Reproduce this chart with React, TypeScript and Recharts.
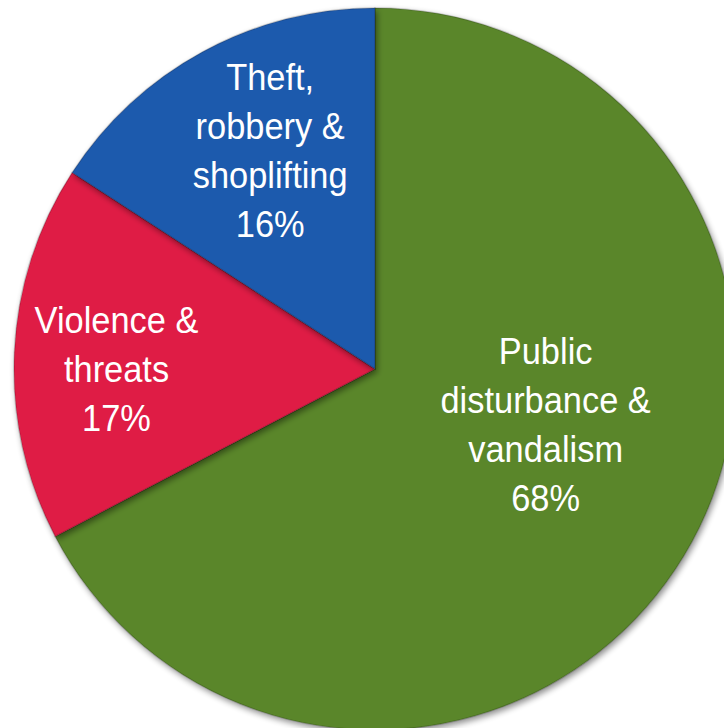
import { PieChart, Pie, Cell } from 'recharts';

const categories = [
  'Public disturbance & vandalism',
  'Violence & threats',
  'Theft, robbery & shoplifting',
];
const shares = [68, 17, 16];
const labelLines = [
  ['Public', 'disturbance &', 'vandalism'],
  ['Violence &', 'threats'],
  ['Theft,', 'robbery &', 'shoplifting'],
];

const colors = ['#5a862b', '#df1c45', '#1f5aad'];
// where each label block sits: fraction of the radius, angle in degrees
const labelPlacement = [
  { r: 0.497, angle: -18 },
  { r: 0.716, angle: 180 },
  { r: 0.672, angle: 115.6 },
];

const data = categories.map((name, i) => ({ name, value: shares[i] }));

const RADIAN = Math.PI / 180;

function renderLabel(props: any) {
  const { cx, cy, outerRadius, index } = props;
  const place = labelPlacement[index];
  const x = cx + outerRadius * place.r * Math.cos(place.angle * RADIAN);
  const y = cy - outerRadius * place.r * Math.sin(place.angle * RADIAN);
  const lines = [...labelLines[index], `${shares[index]}%`];
  const step = 49;
  return (
    <g transform={`translate(${x},${y}) scale(0.93,1)`}>
      {lines.map((line, i) => (
        <text
          key={i}
          x={0}
          y={(i - (lines.length - 1) / 2) * step + 13}
          textAnchor="middle"
          fill="#ffffff"
          fontSize={37}
          fontFamily="'Liberation Sans', Arial, sans-serif"
        >
          {line}
        </text>
      ))}
    </g>
  );
}

export default function App() {
  return (
    <div style={{ position: 'absolute', left: 0, top: 0, width: 724, height: 728, background: '#fff' }}>
      <PieChart width={724} height={728} margin={{ top: 0, right: 0, bottom: 0, left: 0 }}>
        <defs>
          <filter id="pieShadow" x="-10%" y="-10%" width="120%" height="120%">
            <feGaussianBlur in="SourceAlpha" stdDeviation="3" result="blur" />
            <feOffset in="blur" dx="2" dy="3" result="off" />
            <feComponentTransfer in="off" result="shadow">
              <feFuncA type="linear" slope="0.45" />
            </feComponentTransfer>
            <feMerge>
              <feMergeNode in="shadow" />
              <feMergeNode in="SourceGraphic" />
            </feMerge>
          </filter>
        </defs>
        <Pie
          data={data}
          dataKey="value"
          nameKey="name"
          cx={375}
          cy={369}
          outerRadius={361}
          startAngle={90}
          endAngle={-270}
          stroke="none"
          label={renderLabel}
          labelLine={false}
          isAnimationActive={false}
          style={{ filter: 'url(#pieShadow)' }}
        >
          {data.map((d, i) => (
            <Cell key={d.name} fill={colors[i]} stroke="rgba(0,0,0,0.18)" strokeWidth={1.5} />
          ))}
        </Pie>
      </PieChart>
    </div>
  );
}
